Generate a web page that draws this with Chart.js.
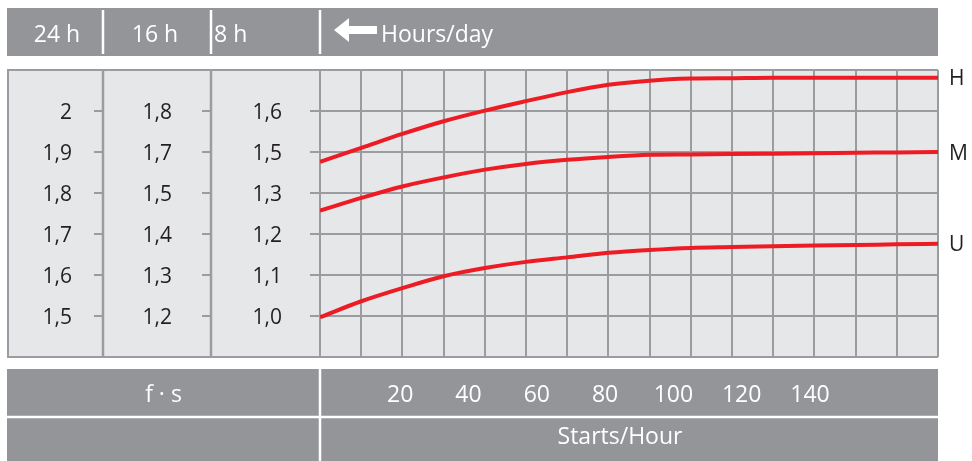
<!DOCTYPE html>
<html><head><meta charset="utf-8">
<script src="https://cdn.jsdelivr.net/npm/chart.js@4"></script>
<style>html,body{margin:0;padding:0;background:#fff}#wrap{width:972px;height:461px;position:relative}</style>
</head><body><div id="wrap"><canvas id="c"></canvas></div>
<script>
// ---- data (y in the 24 h column units, x in starts/hour) ----
const startsPerHour = [-3.5, 8.6, 20.6, 32.7, 44.8, 56.8, 68.9, 81, 93, 105.1, 117.2, 129.2, 141.3, 153.4, 165.4, 177.5];
const seriesH = [1.876, 1.910, 1.944, 1.975, 2.001, 2.024, 2.046, 2.064, 2.074, 2.079, 2.080, 2.081, 2.081, 2.081, 2.081, 2.081];
const seriesM = [1.757, 1.788, 1.816, 1.838, 1.857, 1.871, 1.881, 1.888, 1.893, 1.894, 1.895, 1.896, 1.897, 1.898, 1.899, 1.900];
const seriesU = [1.497, 1.536, 1.568, 1.597, 1.617, 1.632, 1.643, 1.654, 1.661, 1.666, 1.668, 1.670, 1.672, 1.673, 1.675, 1.676];
const seriesNames = ['H', 'M', 'U'];
const xTickLabels = [20, 40, 60, 80, 100, 120, 140];
const yTicks = [2.0, 1.9, 1.8, 1.7, 1.6, 1.5];
const labels24h = ['2', '1,9', '1,8', '1,7', '1,6', '1,5'];
const labels16h = ['1,8', '1,7', '1,5', '1,4', '1,3', '1,2'];
const labels8h = ['1,6', '1,5', '1,3', '1,2', '1,1', '1,0'];
const hoursHeaders = ['24 h', '16 h', '8 h'];
const hoursTitle = 'Hours/day';
const factorTitle = 'f · s';
const xTitle = 'Starts/Hour';

// ---- style ----
const xMin = -3.5, xMax = 177.5, gridColumns = 15;
const yMin = 1.4, yMax = 2.1;
const BG = '#e6e7e8', GRID = '#9a9c9f', BAR = '#939598', INK = '#231f20', RED = '#ed1c24';
const FONT = '"Open Sans", "Noto Sans", sans-serif';

const decor = {
  id: 'decor',
  beforeDraw(chart) {
    const { ctx, chartArea: a } = chart;
    ctx.save();
    ctx.fillStyle = '#fff'; ctx.fillRect(0, 0, chart.width, chart.height);
    ctx.fillStyle = BAR; ctx.fillRect(7, 8, a.right - 7, 48);
    ctx.fillStyle = BG; ctx.fillRect(7, a.top, a.right - 7, a.bottom - a.top);
    ctx.fillStyle = BAR; ctx.fillRect(7, 369, a.right - 7, 92);
    ctx.restore();
  },
  afterDraw(chart) {
    const { ctx, chartArea: a, scales: { x, y } } = chart;
    ctx.save();
    // left panel borders
    ctx.strokeStyle = GRID; ctx.lineWidth = 2;
    ctx.beginPath();
    ctx.moveTo(8, a.top); ctx.lineTo(8, a.bottom);
    ctx.moveTo(7, a.top); ctx.lineTo(a.left, a.top);
    ctx.moveTo(7, a.bottom); ctx.lineTo(a.left, a.bottom);
    ctx.stroke();
    ctx.lineWidth = 2.5;
    ctx.beginPath();
    ctx.moveTo(103, a.top); ctx.lineTo(103, a.bottom);
    ctx.moveTo(211, a.top); ctx.lineTo(211, a.bottom);
    ctx.stroke();
    // tick marks + labels of the three hour columns
    ctx.lineWidth = 2;
    ctx.font = '21px ' + FONT; ctx.fillStyle = INK; ctx.textAlign = 'right'; ctx.textBaseline = 'alphabetic';
    yTicks.forEach((v, i) => {
      const py = y.getPixelForValue(v);
      ctx.beginPath();
      ctx.moveTo(94, py); ctx.lineTo(103, py);
      ctx.moveTo(202, py); ctx.lineTo(211, py);
      ctx.moveTo(310, py); ctx.lineTo(a.left, py);
      ctx.stroke();
      ctx.fillText(labels24h[i], 72, py + 7.5);
      ctx.fillText(labels16h[i], 172, py + 7.5);
      ctx.fillText(labels8h[i], 282, py + 7.5);
    });
    // series names at right
    ctx.textAlign = 'left';
    chart.data.datasets.forEach((ds, i) => {
      const last = ds.data[ds.data.length - 1];
      ctx.fillText(seriesNames[i], 949, y.getPixelForValue(last.y) + 7.5);
    });
    // top bar separators and text
    ctx.strokeStyle = '#fff'; ctx.lineWidth = 2.5;
    ctx.beginPath();
    [103, 211, 320].forEach(sx => { ctx.moveTo(sx, 10); ctx.lineTo(sx, 54); });
    ctx.stroke();
    ctx.fillStyle = '#fff'; ctx.font = '23px ' + FONT;
    ctx.textAlign = 'center';
    ctx.fillText(hoursHeaders[0], 57, 42);
    ctx.fillText(hoursHeaders[1], 155, 42);
    ctx.textAlign = 'left';
    ctx.fillText(hoursHeaders[2], 214, 42);
    ctx.fillText(hoursTitle, 381, 42);
    // arrow
    ctx.beginPath();
    ctx.moveTo(334, 30); ctx.lineTo(349, 18); ctx.lineTo(349, 26); ctx.lineTo(377, 26);
    ctx.lineTo(377, 34); ctx.lineTo(349, 34); ctx.lineTo(349, 42); ctx.closePath();
    ctx.fill();
    // bottom bars separators and text
    ctx.beginPath();
    ctx.moveTo(a.left, 369); ctx.lineTo(a.left, 461);
    ctx.moveTo(7, 417); ctx.lineTo(a.right, 417);
    ctx.stroke();
    ctx.textAlign = 'center';
    ctx.fillText(factorTitle, (7 + a.left) / 2, 402);
    xTickLabels.forEach(v => ctx.fillText(String(v), x.getPixelForValue(v), 402));
    ctx.fillText(xTitle, 620, 444);
    ctx.restore();
  }
};

const mk = arr => arr.map((v, i) => ({ x: startsPerHour[i], y: v }));
new Chart(document.getElementById('c'), {
  type: 'line',
  data: {
    datasets: [seriesH, seriesM, seriesU].map((s, i) => ({
      label: seriesNames[i], data: mk(s), borderColor: RED, borderWidth: 4,
      pointRadius: 0, cubicInterpolationMode: 'monotone', fill: false
    }))
  },
  options: {
    responsive: true, maintainAspectRatio: false, animation: false,
    layout: { padding: { left: 320, right: 34, top: 70, bottom: 104 } },
    plugins: { legend: { display: false }, tooltip: { enabled: false } },
    scales: {
      x: {
        type: 'linear', min: xMin, max: xMax,
        afterBuildTicks: s => { s.ticks = Array.from({ length: gridColumns + 1 }, (_, k) => ({ value: xMin + (xMax - xMin) * k / gridColumns })); },
        ticks: { display: false }, border: { display: false },
        grid: { color: GRID, lineWidth: 2, drawTicks: false }
      },
      y: {
        type: 'linear', min: yMin, max: yMax,
        ticks: { display: false, stepSize: 0.1 }, border: { display: false },
        grid: { color: GRID, lineWidth: 2, drawTicks: false }
      }
    }
  },
  plugins: [decor]
});
</script>
</body></html>
